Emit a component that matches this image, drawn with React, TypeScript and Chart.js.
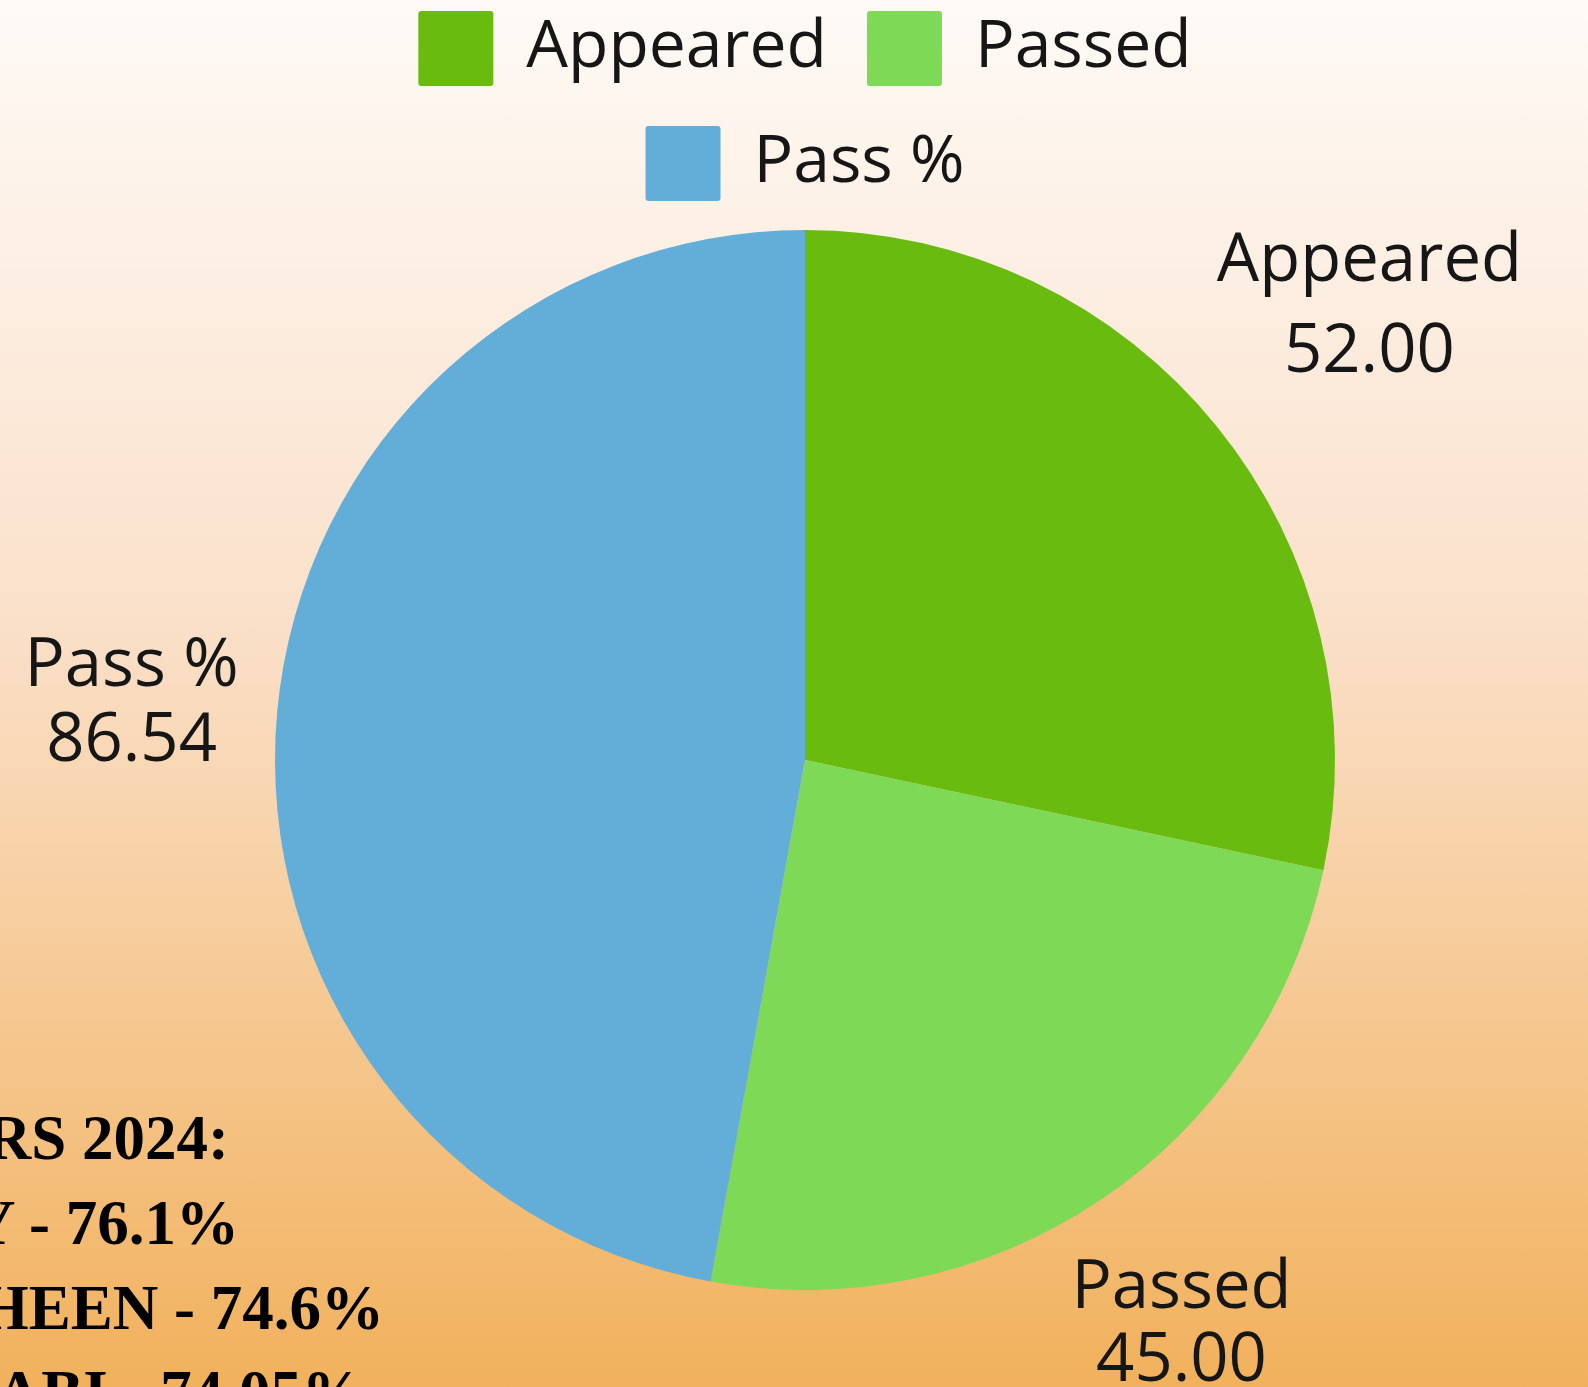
import React, { useEffect, useRef } from "react";
import { Chart, registerables } from "chart.js";

Chart.register(...registerables);

// ---- data ----
const categories = ["Appeared", "Passed", "Pass %"];
const values = [52.0, 45.0, 86.54];
const sliceColors = ["#69bb0f", "#7ed957", "#63aed8"];
const noteLines = ["RS 2024:", "Y - 76.1%", "HEEN - 74.6%", "NABI - 74.05%"];

// ---- styles ----
const noteLineEnds = [229, 239, 384, 365];
const labelLineGaps = [91, 73, 75];
const FONT_FAMILY = "'Open Sans', sans-serif";
const LABEL_SIZE = 67;
const TEXT_COLOR = "#161616";

const outsideLabels = {
  id: "outsideLabels",
  afterDatasetsDraw(chart: any) {
    const ctx = chart.ctx;
    const meta = chart.getDatasetMeta(0);
    const ds = chart.data.datasets[0];
    ctx.save();
    ctx.font = `${LABEL_SIZE}px ${FONT_FAMILY}`;
    ctx.fillStyle = TEXT_COLOR;
    ctx.textAlign = "center";
    ctx.textBaseline = "alphabetic";
    const capH = LABEL_SIZE * 0.714;
    meta.data.forEach((arc: any, i: number) => {
      const { x, y, startAngle, endAngle, outerRadius } = arc.getProps(
        ["x", "y", "startAngle", "endAngle", "outerRadius"],
        true
      );
      const gap = labelLineGaps[i];
      const mid = (startAngle + endAngle) / 2;
      const vx = Math.cos(mid);
      const vy = Math.sin(mid);
      const lines = [String(chart.data.labels[i]), Number(ds.data[i]).toFixed(2)];
      const w = Math.max(...lines.map((l) => ctx.measureText(l).width));
      const h = gap + capH;
      const support = (Math.abs(vx) * w) / 2 + (Math.abs(vy) * h) / 2;
      const d = outerRadius + 34 + support;
      const cx = x + vx * d;
      const cy = y + vy * d;
      const base = cy - h / 2 + capH;
      lines.forEach((l, k) => ctx.fillText(l, cx, base + k * gap));
    });
    ctx.restore();
  },
};

export default function App() {
  const canvasRef = useRef<HTMLCanvasElement | null>(null);

  useEffect(() => {
    if (!canvasRef.current) return;
    const chart = new Chart(canvasRef.current, {
      type: "pie",
      data: {
        labels: categories,
        datasets: [
          {
            data: values,
            backgroundColor: sliceColors,
            borderWidth: 0,
          },
        ],
      },
      options: {
        responsive: false,
        animation: false,
        layout: { padding: { top: -29, left: 275, right: 253, bottom: 78 } },
        plugins: {
          tooltip: { enabled: false },
          legend: {
            position: "top",
            labels: {
              font: { family: FONT_FAMILY, size: 66 },
              color: TEXT_COLOR,
              boxWidth: 75,
              boxHeight: 75,
              padding: 40,
              useBorderRadius: true,
              borderRadius: 3,
            },
          },
        },
      },
      plugins: [outsideLabels],
    });
    return () => chart.destroy();
  }, []);

  return (
    <div
      style={{
        position: "absolute",
        left: 0,
        top: 0,
        width: 1588,
        height: 1387,
        overflow: "hidden",
        background:
          "linear-gradient(to bottom, #fefaf6 0%, #fae0c9 45%, #f1b15c 100%)",
      }}
    >
      <canvas
        ref={canvasRef}
        width={1588}
        height={1387}
        style={{ position: "absolute", left: 0, top: 0, width: 1588, height: 1387 }}
      />
      {noteLines.map((t, i) => (
        <div
          key={i}
          style={{
            position: "absolute",
            right: 1588 - noteLineEnds[i],
            top: 1096 + 85 * i,
            whiteSpace: "nowrap",
            textAlign: "right",
            fontFamily: "'Liberation Serif', 'Times New Roman', serif",
            fontWeight: "bold",
            fontSize: 63,
            lineHeight: "85px",
            color: "#000",
          }}
        >
          {t}
        </div>
      ))}
    </div>
  );
}
